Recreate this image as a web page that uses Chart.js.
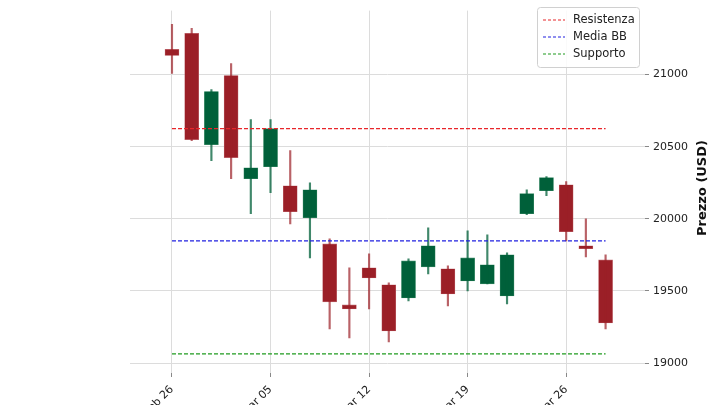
<!DOCTYPE html>
<html><head><meta charset="utf-8">
<script src="https://cdn.jsdelivr.net/npm/chart.js@4"></script>
<style>body{margin:0;background:#fff}#wrap{width:720px;height:405px}</style>
</head><body><div id="wrap"><canvas id="c"></canvas></div>
<script>
// indices of trading days, ticks every 5 sessions
const tickPos = [0, 5, 10, 15, 20];
const tickLabels = ['Feb 26', 'Mar 05', 'Mar 12', 'Mar 19', 'Mar 26'];
const opens  = [21174, 21285, 20514, 20993, 20278, 20361, 20229, 20007, 19826, 19403, 19660, 19542, 19451, 19667, 19653, 19569, 19549, 19465, 20035, 20194, 20236, 19813, 19715];
const closes = [21132, 20549, 20882, 20424, 20354, 20625, 20049, 20201, 19424, 19375, 19590, 19222, 19708, 19813, 19479, 19729, 19681, 19750, 20174, 20285, 19910, 19792, 19278];
const highs  = [21347, 21320, 20896, 21076, 20688, 20688, 20472, 20250, 19861, 19660, 19757, 19556, 19722, 19938, 19674, 19917, 19889, 19764, 20201, 20292, 20257, 20000, 19750];
const lows   = [21007, 20542, 20403, 20278, 20035, 20181, 19965, 19729, 19236, 19174, 19375, 19146, 19431, 19618, 19396, 19500, 19549, 19410, 20028, 20160, 19847, 19736, 19236];
const resistenza = 20625, mediaBB = 19847, supporto = 19063;

const RED = '#9b1f27', GREEN = '#00603a';
const up = opens.map((o, i) => closes[i] >= o);
const bodyData = opens.map((o, i) => ({x: i, y: [Math.min(o, closes[i]), Math.max(o, closes[i])]}));
const wickData = lows.map((l, i) => ({x: i, y: [l, highs[i]]}));
const n = opens.length;
const lineData = v => [{x: 0, y: v}, {x: n - 1, y: v}];

const legendItems = [['Resistenza', '#e8262b'], ['Media BB', '#2020e0'], ['Supporto', '#1f9a1f']];
const legendPlugin = {
  id: 'dashLegend',
  afterDraw(chart) {
    const ctx = chart.ctx, x0 = 537, y0 = 7, w = 102, h = 60;
    ctx.save();
    ctx.fillStyle = 'rgba(255,255,255,0.85)';
    ctx.strokeStyle = '#d0d0d0';
    ctx.lineWidth = 1;
    ctx.beginPath(); ctx.roundRect(x0 + 0.5, y0 + 0.5, w, h, 3); ctx.fill(); ctx.stroke();
    ctx.font = '11.5px "DejaVu Sans"';
    ctx.textBaseline = 'middle';
    legendItems.forEach(([t, c], i) => {
      const y = y0 + 13 + i * 17;
      ctx.strokeStyle = c; ctx.lineWidth = 1.2; ctx.setLineDash([3, 2]);
      ctx.beginPath(); ctx.moveTo(x0 + 6, y); ctx.lineTo(x0 + 28, y); ctx.stroke();
      ctx.setLineDash([]);
      ctx.fillStyle = '#222';
      ctx.fillText(t, x0 + 36, y);
    });
    // y axis title, reading bottom to top
    ctx.translate(703, 188);
    ctx.rotate(-Math.PI / 2);
    ctx.font = 'bold 13px "DejaVu Sans"';
    ctx.textAlign = 'center';
    ctx.fillStyle = '#111';
    ctx.fillText('Prezzo (USD)', 0, 0);
    ctx.restore();
  }
};

new Chart(document.getElementById('c'), {
  type: 'bar',
  data: {
    datasets: [
      {type: 'line', data: lineData(resistenza), borderColor: '#e8262b', borderWidth: 1.2, borderDash: [4, 2], pointRadius: 0},
      {type: 'line', data: lineData(mediaBB), borderColor: '#2020e0', borderWidth: 1.2, borderDash: [4, 2], pointRadius: 0},
      {type: 'line', data: lineData(supporto), borderColor: '#1f9a1f', borderWidth: 1.2, borderDash: [4, 2], pointRadius: 0},
      {data: wickData, barThickness: 1.5, grouped: false, backgroundColor: up.map(u => u ? 'rgba(0,96,58,0.75)' : 'rgba(155,31,39,0.7)')},
      {data: bodyData, barThickness: 14, grouped: false, backgroundColor: up.map(u => u ? GREEN : RED), borderColor: up.map(u => u ? '#3a8a66' : '#c06a70'), borderWidth: 0.6, borderSkipped: false}
    ]
  },
  options: {
    responsive: true, maintainAspectRatio: false, animation: false,
    layout: {padding: {left: 130, top: 0, right: 0, bottom: 0}},
    plugins: {legend: {display: false}, tooltip: {enabled: false}},
    scales: {
      x: {
        type: 'linear', min: -2.13, max: 24, offset: false,
        afterBuildTicks: ax => { ax.ticks = tickPos.map(v => ({value: v})); },
        afterFit: ax => { ax.height = 32; },
        ticks: {callback: (v) => tickLabels[tickPos.indexOf(v)], maxRotation: 45, minRotation: 45, color: '#222', font: {family: 'DejaVu Sans', size: 11}, padding: 6},
        grid: {color: '#dcdcdc', tickColor: '#888', tickLength: 4, offset: false},
        border: {display: false}
      },
      y: {
        position: 'right', min: 18931, max: 21443,
        afterBuildTicks: ax => { ax.ticks = [19000, 19500, 20000, 20500, 21000].map(v => ({value: v})); },
        afterFit: ax => { ax.width = 75; },
        ticks: {color: '#222', font: {family: 'DejaVu Sans', size: 11}, padding: 4, callback: v => String(v)},
        grid: {color: '#dcdcdc', tickColor: '#888', tickLength: 4},
        border: {display: false}
      }
    }
  },
  plugins: [legendPlugin]
});
</script></body></html>
